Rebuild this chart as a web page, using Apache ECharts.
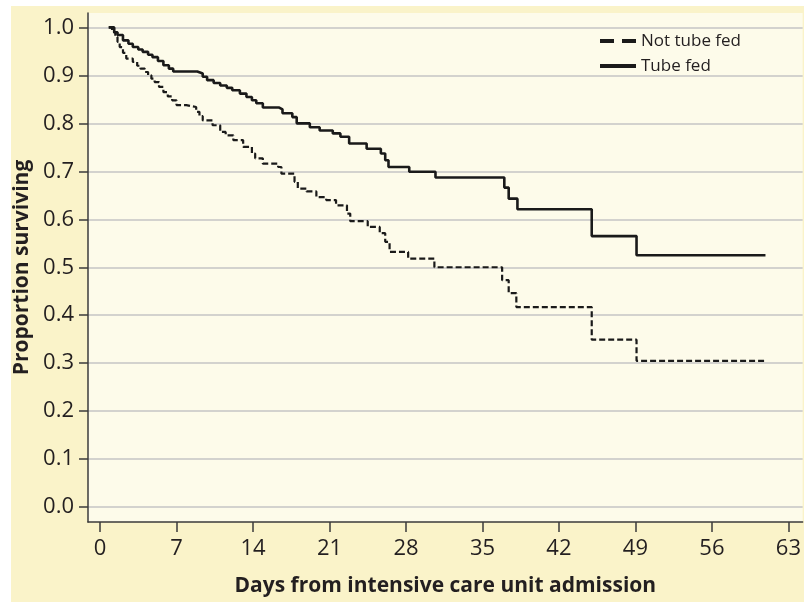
<!DOCTYPE html>
<html>
<head>
<meta charset="utf-8">
<script src="https://cdn.jsdelivr.net/npm/echarts@6/dist/echarts.min.js"></script>
<style>
html,body{margin:0;padding:0;background:#ffffff;}
#chart{width:804px;height:602px;}
</style>
</head>
<body>
<div id="chart"></div>
<script>
// ---- data ----
var seriesNames = ['Not tube fed', 'Tube fed'];
var xTicks = [0, 7, 14, 21, 28, 35, 42, 49, 56, 63];
var yTicks = [0, 0.1, 0.2, 0.3, 0.4, 0.5, 0.6, 0.7, 0.8, 0.9, 1.0];
var xTitle = 'Days from intensive care unit admission';
var yTitle = 'Proportion surviving';

// Kaplan-Meier steps: [day, proportion surviving after the drop]
var tubeFed = [
  [0.8, 1.0], [1.3, 0.99], [1.6, 0.984], [2.1, 0.973], [2.6, 0.966], [3.0, 0.959],
  [3.5, 0.954], [3.9, 0.949], [4.4, 0.943], [4.8, 0.938], [5.3, 0.93], [5.8, 0.921],
  [6.3, 0.914], [6.7, 0.908], [8.9, 0.904], [9.4, 0.897], [9.8, 0.89], [10.4, 0.884],
  [11.0, 0.879], [11.6, 0.874], [12.1, 0.869], [12.8, 0.862], [13.4, 0.855], [13.9, 0.848],
  [14.3, 0.842], [14.9, 0.833], [16.4, 0.829], [16.7, 0.821], [17.6, 0.813], [18.0, 0.8],
  [19.2, 0.792], [20.1, 0.785], [21.3, 0.779], [22.0, 0.772], [22.8, 0.758], [24.4, 0.747],
  [25.7, 0.737], [26.1, 0.723], [26.4, 0.709], [28.3, 0.699], [30.7, 0.687], [37.0, 0.666],
  [37.4, 0.643], [38.2, 0.621], [45.0, 0.565], [49.1, 0.525], [60.9, 0.525]
];
var notTubeFed = [
  [0.8, 1.0], [1.1, 0.99], [1.4, 0.98], [1.6, 0.97], [1.8, 0.959], [2.1, 0.947],
  [2.4, 0.935], [3.0, 0.928], [3.4, 0.92], [3.7, 0.914], [4.1, 0.907], [4.4, 0.9],
  [4.7, 0.893], [5.0, 0.886], [5.4, 0.876], [5.8, 0.865], [6.2, 0.856], [6.6, 0.848],
  [7.0, 0.838], [7.9, 0.834], [8.8, 0.824], [9.1, 0.815], [9.4, 0.806], [10.3, 0.796],
  [11.0, 0.782], [11.5, 0.775], [12.2, 0.765], [13.1, 0.751], [13.9, 0.737], [14.2, 0.727],
  [14.9, 0.716], [16.3, 0.709], [16.6, 0.695], [17.8, 0.678], [18.1, 0.664], [18.9, 0.658],
  [19.8, 0.646], [20.7, 0.64], [21.6, 0.629], [22.6, 0.612], [22.9, 0.596], [24.5, 0.584],
  [25.6, 0.571], [26.1, 0.553], [26.5, 0.532], [28.2, 0.518], [30.6, 0.5], [36.8, 0.473],
  [37.4, 0.446], [38.1, 0.417], [45.0, 0.349], [49.1, 0.305], [60.9, 0.305]
];

// ---- chart ----
var FONT = 'Open Sans';
var TXT = '#231f20';
var INK = '#1a1a1a';
var chart = echarts.init(document.getElementById('chart'), null, {renderer: 'canvas'});
var option = {
  backgroundColor: 'transparent',
  animation: false,
  color: [INK, INK],
  graphic: [{
    type: 'rect', z: -10, silent: true,
    shape: {x: 11, y: 6, width: 800, height: 600},
    style: {fill: '#faf3c9'}
  }],
  grid: {
    left: 88, top: 13, right: 0, bottom: 80,
    show: true, backgroundColor: '#fdfbea', borderWidth: 0
  },
  legend: {
    orient: 'vertical', left: 595, top: 26, itemWidth: 36, itemHeight: 4.5, itemGap: 5,
    textStyle: {fontFamily: FONT, fontSize: 17, color: TXT, lineHeight: 20},
    data: [
      {name: seriesNames[0], icon: 'path://M0,0h14v4h-14z M22,0h14v4h-14z', itemStyle: {color: INK}},
      {name: seriesNames[1], icon: 'path://M0,0h36v4h-36z', itemStyle: {color: INK}}
    ]
  },
  xAxis: {
    type: 'value', min: -1.1, max: 64.3,
    name: xTitle, nameLocation: 'middle', nameGap: 54,
    nameTextStyle: {fontFamily: FONT, fontSize: 21, fontWeight: 'bold', color: TXT},
    axisLine: {show: true, onZero: false, lineStyle: {color: '#3b3b3b', width: 1.5}},
    axisTick: {show: true, length: 10, lineStyle: {color: '#3b3b3b', width: 1.5}, customValues: xTicks},
    axisLabel: {fontFamily: FONT, fontSize: 22, color: TXT, margin: 16, customValues: xTicks},
    splitLine: {show: false}
  },
  yAxis: {
    type: 'value', min: -0.031, max: 1.030,
    name: yTitle, nameLocation: 'middle', nameGap: 49,
    nameTextStyle: {fontFamily: FONT, fontSize: 21, fontWeight: 'bold', color: TXT},
    axisLine: {show: true, onZero: false, lineStyle: {color: '#3b3b3b', width: 1.5}},
    axisTick: {show: true, length: 9, lineStyle: {color: '#3b3b3b', width: 1.5}, customValues: yTicks},
    axisLabel: {fontFamily: FONT, fontSize: 22, color: TXT, margin: 14, customValues: yTicks,
      formatter: function (v) { return v.toFixed(1); }},
    splitLine: {show: true, lineStyle: {color: '#c4c4c4', width: 1.6}}
  },
  series: [
    {
      name: seriesNames[0], type: 'line', step: 'end', data: notTubeFed,
      showSymbol: false, symbol: 'none', itemStyle: {color: INK},
      lineStyle: {color: INK, width: 2.2, type: [6, 3]}
    },
    {
      name: seriesNames[1], type: 'line', step: 'end', data: tubeFed,
      showSymbol: false, symbol: 'none', itemStyle: {color: INK},
      lineStyle: {color: INK, width: 2.6, type: 'solid'}
    }
  ]
};
chart.setOption(option);
</script>
</body>
</html>
